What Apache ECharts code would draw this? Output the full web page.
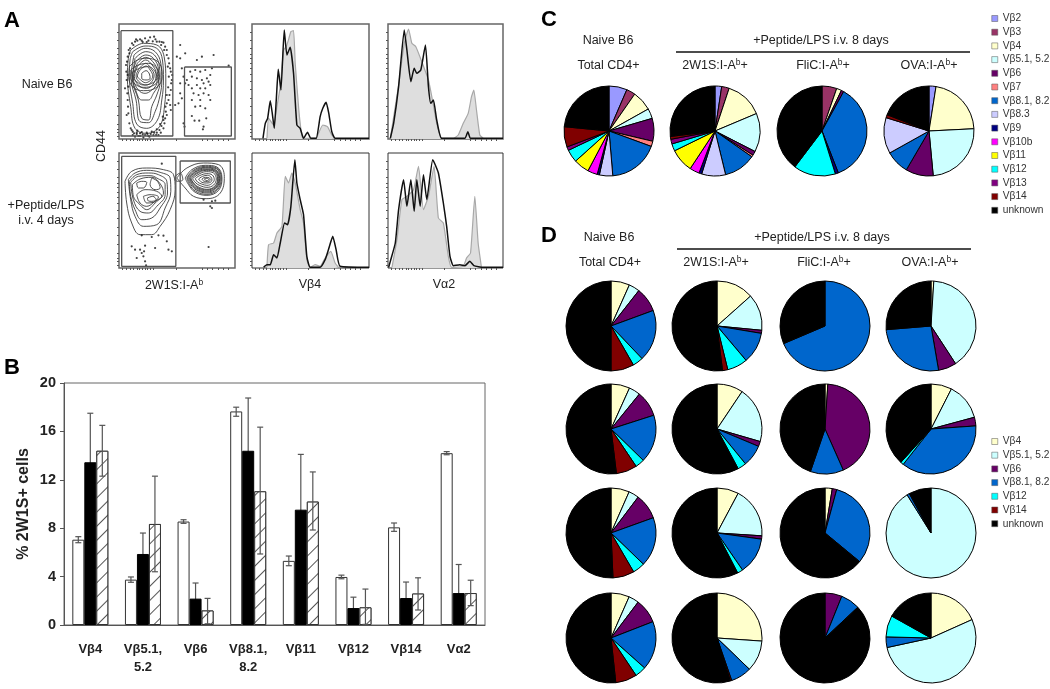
<!DOCTYPE html>
<html>
<head>
<meta charset="utf-8">
<style>
  html, body { margin: 0; padding: 0; background: #fff; }
  #main { width: 1050px; height: 689px; }
</style>
</head>
<body>
<div id="main"></div>
<script src="https://cdn.jsdelivr.net/npm/echarts@6/dist/echarts.min.js"></script>
<script>
// panel B
const barCats = ['Vβ4', 'Vβ5.1,\n5.2', 'Vβ6', 'Vβ8.1,\n8.2', 'Vβ11', 'Vβ12', 'Vβ14', 'Vα2']
const whiteVals = [7.05, 3.75, 8.55, 17.65, 5.3, 3.97, 8.07, 14.2]
const blackVals = [13.45, 5.87, 2.18, 14.4, 9.53, 1.4, 2.23, 2.64]
const hatchVals = [14.4, 8.35, 1.2, 11.05, 10.2, 1.46, 2.6, 2.64]
const whiteHi = [7.3, 3.97, 8.7, 18.0, 5.7, 4.12, 8.43, 14.33]
const whiteLo = [6.8, 3.53, 8.4, 17.25, 4.9, 3.82, 7.74, 14.07]
const blackHi = [17.5, 7.6, 3.47, 18.76, 14.1, 2.3, 3.55, 5.0]
const blackLo = [9.4, 4.1, 0.9, 10.0, 5.0, 0.5, 0.9, 0.3]
const hatchHi = [16.5, 12.3, 2.2, 16.35, 12.65, 2.97, 3.9, 3.7]
const hatchLo = [12.3, 4.4, 0.1, 5.87, 7.85, 0.05, 1.24, 1.6]

// panel C / D pies, percent, clockwise from 12 o'clock
const namesC = ['Vβ2', 'Vβ3', 'Vβ4', 'Vβ5.1, 5.2', 'Vβ6', 'Vβ7', 'Vβ8.1, 8.2', 'Vβ8.3', 'Vβ9', 'Vβ10b', 'Vβ11', 'Vβ12', 'Vβ13', 'Vβ14', 'unknown']
const colorsC = ['#9999ff', '#993366', '#ffffcc', '#ccffff', '#660066', '#ff8080', '#0066cc', '#ccccff', '#000080', '#ff00ff', '#ffff00', '#00ffff', '#800080', '#800000', '#000000']
const cNaive = [6.5, 3.2, 7.2, 3.6, 8.2, 1.9, 18.1, 4.8, 0.8, 3.5, 5.6, 4.6, 1.3, 7.3, 23.5]
const c2W1S = [2.4, 2.7, 13.6, 13.9, 1.5, 0.7, 11.5, 8.6, 1.0, 3.5, 8.5, 2.6, 1.7, 1.0, 27]
const cFliC = [0, 5.3, 1.8, 0, 0.9, 0, 36.1, 0, 1.1, 0, 0, 15.1, 0, 0, 39.7]
const cOVA = [2.5, 0, 21.7, 24.3, 9.9, 0, 8.5, 12.9, 0, 0, 0, 0, 0, 1.1, 19.1]

const namesD = ['Vβ4', 'Vβ5.1, 5.2', 'Vβ6', 'Vβ8.1, 8.2', 'Vβ12', 'Vβ14', 'unknown']
const colorsD = ['#ffffcc', '#ccffff', '#660066', '#0066cc', '#00ffff', '#800000', '#000000']
const dNaive1 = [6.7, 3.9, 8.8, 18.5, 3.8, 8.3, 50]
const d2W1S1 = [13.4, 13.1, 1.1, 11.2, 7.3, 1.9, 51.9]
const dFliC1 = [0, 0, 0, 68.6, 0, 0, 31.4]
const dOVA1 = [1.0, 39.8, 6.5, 26.4, 0, 0, 26.3]
const dNaive2 = [6.75, 4.1, 9.2, 17.2, 3.3, 7.5, 51.9]
const d2W1S2 = [9.4, 20.1, 1.8, 7.8, 3.1, 0, 57.8]
const dFliC2 = [1.0, 0, 42.3, 11.9, 0, 0, 44.7]
const dOVA2 = [7.5, 13.3, 3.1, 36.7, 1.1, 0, 38.3]
const dNaive3 = [6.6, 3.7, 9.2, 17.7, 4.4, 7.7, 50.7]
const d2W1S3 = [7.8, 18.2, 1.2, 13.2, 2.0, 0, 57.6]
const dFliC3 = [2.6, 0, 1.6, 31.8, 0, 0, 64]
const dOVA3 = [0, 91.1, 0, 0.9, 0, 0, 8.0]
const dNaive4 = [6.6, 3.7, 8.8, 17.5, 4.0, 7.7, 51.7]
const d2W1S4 = [26.1, 11.1, 0, 7.5, 0, 0.5, 54.8]
const dFliC4 = [0, 0, 6.1, 6.9, 0, 0, 87]
const dOVA4 = [18.3, 53.3, 0, 3.8, 7.7, 0, 16.9]

// panel A histograms, [channel, height scale runs top to bottom]
const histB1 = [[38,385],[45,340],[52,325],[60,272],[66,310],[72,355],[78,270],[84,178],[92,240],[102,60],[110,135],[120,112],[130,190],[140,345],[150,355],[160,385],[172,367],[182,385],[198,385],[210,320],[218,295],[228,277],[236,310],[245,365],[255,385],[357,385]]
const histG1 = [[50,385],[55,325],[70,345],[80,290],[90,230],[100,120],[108,110],[116,85],[122,65],[130,62],[135,160],[145,290],[150,340],[158,385],[198,385],[205,370],[218,345],[232,350],[245,375],[255,385]]
const histB2 = [[420,385],[430,340],[445,230],[462,60],[470,120],[482,215],[492,175],[500,190],[512,180],[526,105],[535,230],[542,280],[550,270],[560,330],[575,385],[645,385],[654,365],[662,385],[760,385]]
const histG2 = [[420,385],[445,225],[462,100],[475,57],[485,100],[497,110],[515,155],[535,210],[548,275],[560,340],[575,385],[610,385],[625,375],[640,340],[655,310],[665,260],[672,240],[680,300],[690,375],[700,385]]
const histB3 = [[40,773],[50,765],[60,765],[70,735],[80,745],[90,700],[103,640],[112,645],[122,590],[134,450],[140,520],[150,570],[160,615],[170,740],[180,773],[210,773],[225,750],[235,720],[248,680],[258,720],[270,770],[357,773]]
const histG3 = [[50,773],[55,705],[70,700],[80,670],[95,650],[105,500],[115,520],[125,490],[135,520],[150,600],[160,640],[170,750],[180,773],[195,765],[210,770],[225,745],[242,725],[255,760],[265,773]]
const histB4 = [[415,773],[420,755],[435,700],[445,600],[460,510],[470,590],[482,510],[492,605],[500,510],[510,590],[520,495],[530,570],[548,450],[565,490],[580,580],[590,650],[600,740],[610,768],[630,765],[645,768],[660,755],[672,768],[700,773],[760,773]]
const histG4 = [[425,773],[440,690],[455,570],[470,560],[490,540],[505,470],[520,600],[535,560],[552,470],[565,625],[580,640],[595,740],[605,773],[640,770],[650,745],[662,730],[675,560],[685,700],[695,773]]

// panel A contour plots
const naiveGates = [[[363,92],[518,92],[518,408],[363,408]], [[553,201],[693,201],[693,408],[553,408]]]
const naiveContours = [
  [[392,150],[430,130],[470,135],[492,170],[497,240],[493,320],[478,380],[440,400],[405,385],[392,320],[382,230],[385,175]],
  [[398,155],[435,138],[470,145],[487,180],[490,240],[485,300],[472,360],[440,385],[410,372],[398,310],[388,230],[390,180]],
  [[402,165],[435,145],[465,155],[482,190],[485,240],[480,285],[465,335],[445,368],[420,365],[408,300],[393,235]],
  [[405,175],[437,155],[463,165],[478,200],[480,245],[470,285],[455,320],[445,360],[425,355],[415,300],[398,240]],
  [[408,185],[437,165],[460,175],[475,210],[475,250],[460,280],[445,300],[425,300],[405,265],[397,230]],
  [[412,190],[437,172],[458,185],[472,215],[470,250],[455,270],[435,280],[415,270],[400,235]],
  [[412,200],[437,180],[456,195],[468,220],[462,248],[440,265],[418,258],[403,230]],
  [[418,205],[437,190],[452,205],[462,225],[455,245],[438,255],[420,248],[408,228]],
  [[420,210],[438,198],[450,210],[458,228],[450,242],[436,248],[422,240],[412,228]],
  [[425,220],[438,212],[448,222],[450,235],[438,240],[425,235]],
  [[388,200],[412,180],[440,175],[478,190],[486,230],[470,262],[430,272],[400,262],[386,232]],
  [[392,210],[415,195],[445,190],[470,205],[478,232],[462,255],[430,262],[405,252],[392,232]],
  [[396,218],[418,205],[445,200],[465,215],[470,235],[455,250],[430,255],[410,245],[398,232]]
]
const naiveDots = [[405,125],[420,118],[435,115],[450,112],[462,110],[470,125],[478,125],[490,128],[495,140],[400,135],[390,145],[412,122],[425,122],[445,122],[458,124],[483,135],[500,150],[505,175],[510,205],[515,240],[512,270],[505,300],[497,335],[490,360],[484,378],[478,390],[470,398],[460,405],[445,408],[430,412],[420,400],[410,398],[405,410],[398,395],[392,385],[398,405],[415,408],[435,405],[452,402],[385,340],[380,345],[383,300],[385,260],[375,265],[383,225],[378,195],[383,170],[388,160],[495,355],[500,310],[508,285],[516,225],[507,190],[512,330],[490,385],[475,405],[540,135],[555,160],[530,170],[540,175],[590,180],[605,170],[640,165],[685,197],[545,205],[550,230],[540,250],[555,250],[560,240],[570,215],[585,210],[600,215],[615,210],[635,205],[630,225],[620,235],[575,230],[590,235],[605,240],[610,250],[625,245],[565,255],[575,265],[590,255],[600,265],[615,265],[630,255],[580,280],[595,285],[610,280],[625,285],[575,300],[600,300],[630,300],[585,320],[600,318],[615,325],[575,348],[583,362],[597,362],[618,355],[610,380],[608,388],[550,370],[553,380],[525,315],[535,310],[545,295],[540,280],[396,130],[408,118],[428,126],[440,126],[466,118],[485,126],[492,150],[500,165],[503,200],[506,230],[504,262],[500,285],[496,320],[488,350],[480,372],[470,388],[455,395],[440,398],[425,396],[412,392],[402,400],[395,390],[388,370],[384,320],[382,280],[380,240],[379,215],[381,185],[386,150],[410,402],[420,408],[428,403],[442,402],[448,410],[462,398],[468,405],[482,398],[493,370],[500,345],[510,315],[513,250],[512,215]]

const peptideGates = [[[365,470],[527,470],[527,800],[365,800]], [[540,484],[690,484],[690,610],[540,610]]]
const peptideContours = [
  [[530,535],[560,505],[610,490],[655,495],[672,530],[660,580],[620,597],[580,590],[555,565]],
  [[555,535],[575,510],[615,497],[650,502],[665,535],[655,572],[620,587],[585,578],[565,555]],
  [[560,535],[578,513],[615,500],[649,505],[663,535],[652,570],[620,584],[587,575],[568,555]],
  [[562,535],[580,515],[615,503],[648,507],[660,535],[650,568],[620,580],[590,572],[572,555]],
  [[565,535],[583,517],[615,505],[646,510],[658,536],[648,565],[620,577],[592,570],[575,554]],
  [[568,535],[585,518],[615,508],[645,512],[656,537],[647,563],[620,574],[593,567],[577,553]],
  [[570,536],[588,520],[617,510],[643,514],[654,537],[645,561],[620,571],[595,565],[580,552]],
  [[572,537],[590,522],[618,512],[642,516],[652,538],[643,560],[620,569],[597,563],[582,552]],
  [[577,537],[593,525],[618,516],[640,520],[648,538],[640,556],[620,563],[600,558],[587,550]],
  [[585,537],[598,528],[620,522],[636,526],[642,540],[634,552],[620,557],[604,553],[592,547]],
  [[595,538],[607,530],[622,527],[632,532],[635,541],[628,549],[618,550],[605,548]],
  [[605,538],[615,533],[626,534],[630,541],[622,546],[610,544]],
  [[612,538],[620,536],[626,540],[620,543]],
  [[375,545],[395,515],[440,505],[490,510],[520,525],[525,570],[510,630],[480,680],[455,705],[420,705],[395,670],[380,610]],
  [[385,540],[405,520],[440,512],[480,518],[510,535],[512,575],[495,625],[470,675],[430,680],[405,650],[392,600]],
  [[388,545],[410,525],[445,520],[475,525],[500,545],[502,580],[480,625],[455,655],[425,660],[405,630],[392,590]],
  [[392,548],[415,530],[450,528],[470,535],[495,555],[495,585],[470,620],[445,640],[420,635],[400,600]],
  [[397,555],[420,538],[455,533],[480,552],[490,580],[465,610],[440,630],[420,615],[400,590]],
  [[410,550],[425,545],[440,548],[430,565],[415,565]],
  [[455,535],[472,545],[480,565],[465,570],[450,555]],
  [[410,585],[435,570],[470,575],[485,590],[465,605],[440,620],[420,610]],
  [[430,590],[450,585],[475,592],[460,608],[440,610]],
  [[442,595],[458,590],[468,600],[455,605],[445,604]],
  [[525,530],[540,520],[548,540],[530,545]]
]
const peptideDots = [[485,492],[395,740],[435,738],[432,755],[405,750],[430,770],[410,775],[435,785],[438,797],[465,745],[490,708],[500,725],[505,750],[515,755],[625,742],[630,620],[635,625],[425,707],[455,712],[475,707],[420,750],[425,760],[635,605],[610,600],[645,603]]

// tick offsets of the log axes
const tickOffsX = [10, 22, 34, 44, 54, 62, 70, 78, 86, 94, 102, 170, 248, 264, 280, 296, 312, 326]
const tickOffsY = [26, 50, 74, 92, 104, 118, 132, 150, 172, 196, 222, 248, 275, 300, 316, 326, 336]

const FONT = '"Liberation Sans", Arial, sans-serif'

const grids = []
const xAxes = []
const yAxes = []
const series = []

function addPlot(left, top, w, h, xMin, xMax, yMin, yMax, strong) {
  const i = grids.length
  grids.push({
    left, top, width: w, height: h, show: true,
    backgroundColor: '#fff', borderColor: strong ? '#666' : '#333', borderWidth: strong ? 1.5 : 1
  })
  xAxes.push({
    gridIndex: i, type: 'value', min: xMin, max: xMax,
    axisLine: { show: false }, splitLine: { show: false }, axisLabel: { show: false },
    axisTick: { length: 2, lineStyle: { color: '#555' }, customValues: tickOffsX.map(v => xMin + v) }
  })
  yAxes.push({
    gridIndex: i, type: 'value', min: yMin, max: yMax, inverse: true,
    axisLine: { show: false }, splitLine: { show: false }, axisLabel: { show: false },
    axisTick: { length: 2, lineStyle: { color: '#555' }, customValues: tickOffsY.map(v => yMin + v) }
  })
  return i
}

function addLine(i, pts, color, width, smooth, z) {
  series.push({
    type: 'line', xAxisIndex: i, yAxisIndex: i, data: pts, symbol: 'none', silent: true,
    smooth: smooth, animation: false, z: z,
    lineStyle: { color: color, width: width }
  })
}

function addFlow(left, top, w, h, xMin, xMax, yMin, yMax, gates, contours, dots) {
  const i = addPlot(left, top, w, h, xMin, xMax, yMin, yMax, true)
  contours.forEach(c => addLine(i, c.concat([c[0]]), '#3c3c3c', 0.9, 0.4, 3))
  gates.forEach(g => addLine(i, g.concat([g[0]]), '#555', 1.3, false, 4))
  series.push({
    type: 'scatter', xAxisIndex: i, yAxisIndex: i, data: dots, symbolSize: 2.2, silent: true,
    animation: false, z: 3, itemStyle: { color: '#111' }
  })
}

function addHist(left, top, w, h, xMin, xMax, yMin, yMax, black, gray, strong) {
  const i = addPlot(left, top, w, h, xMin, xMax, yMin, yMax, strong)
  series.push({
    type: 'line', xAxisIndex: i, yAxisIndex: i, data: gray, symbol: 'none', silent: true, animation: false, z: 2,
    smooth: 0.15,
    lineStyle: { color: '#a8a8a8', width: 1.2 },
    areaStyle: { color: '#dedede', opacity: 1, origin: 'end' }
  })
  addLine(i, black, '#111', 1.5, 0.15, 3)
}

addFlow(119, 24, 116, 115, 357, 704, 72, 417, naiveGates, naiveContours, naiveDots)
addFlow(119, 153, 116, 115, 357, 704, 460, 805, peptideGates, peptideContours, peptideDots)
addHist(252, 24, 117, 115, 5, 357, 42, 387, histB1, histG1, true)
addHist(388, 24, 115, 115, 413, 760, 42, 387, histB2, histG2, true)
addHist(252, 153, 117, 115, 5, 357, 430, 775, histB3, histG3, false)
addHist(388, 153, 115, 115, 413, 760, 430, 775, histB4, histG4, false)

// panel B
const barIdx = grids.length
grids.push({ left: 64, top: 383, width: 421, height: 242, show: true, borderColor: '#666', borderWidth: 1, backgroundColor: '#fff' })
xAxes.push({
  gridIndex: barIdx, type: 'category', data: barCats,
  axisLine: { lineStyle: { color: '#555' } },
  axisTick: { length: 4, lineStyle: { color: '#555' } },
  axisLabel: { color: '#222', fontFamily: FONT, fontWeight: 'bold', fontSize: 13, lineHeight: 18, margin: 15, interval: 0 }
})
yAxes.push({
  gridIndex: barIdx, type: 'value', min: 0, max: 20, interval: 4,
  name: '% 2W1S+ cells', nameLocation: 'middle', nameRotate: 90, nameGap: 32,
  nameTextStyle: { color: '#222', fontFamily: FONT, fontWeight: 'bold', fontSize: 16 },
  axisLine: { show: true, lineStyle: { color: '#555' } },
  axisTick: { show: true, length: 4, lineStyle: { color: '#555' } },
  splitLine: { show: false },
  axisLabel: { color: '#222', fontFamily: FONT, fontWeight: 'bold', fontSize: 14.5, margin: 8 }
})

function addBar(vals, style, z) {
  series.push({
    type: 'bar', xAxisIndex: barIdx, yAxisIndex: barIdx, data: vals, barWidth: 12, barGap: 0,
    animation: false, silent: true, z: z, itemStyle: style
  })
}
addBar(whiteVals, { color: '#fff', borderColor: '#333', borderWidth: 1 }, 3)
addBar(blackVals, { color: '#000', borderColor: '#000', borderWidth: 1 }, 3)
addBar(hatchVals, {
  color: '#fff', borderColor: '#333', borderWidth: 1,
  decal: { symbol: 'rect', color: '#555', backgroundColor: '#fff', dashArrayX: [1, 0], dashArrayY: [1, 9], rotation: -Math.PI / 4 }
}, 3)

function addErrors(hi, lo, offset, z) {
  series.push({
    type: 'custom', xAxisIndex: barIdx, yAxisIndex: barIdx, silent: true, animation: false, z: z,
    data: hi.map((v, k) => [k, v, lo[k]]),
    encode: { x: 0, y: [1, 2] },
    renderItem: (params, api) => {
      const top = api.coord([api.value(0), api.value(1)])
      const bot = api.coord([api.value(0), api.value(2)])
      const x = top[0] + offset
      const style = { stroke: '#555', lineWidth: 1.2 }
      return {
        type: 'group',
        children: [
          { type: 'line', shape: { x1: x, y1: top[1], x2: x, y2: bot[1] }, style },
          { type: 'line', shape: { x1: x - 3, y1: top[1], x2: x + 3, y2: top[1] }, style },
          { type: 'line', shape: { x1: x - 3, y1: bot[1], x2: x + 3, y2: bot[1] }, style }
        ]
      }
    }
  })
}
addErrors(whiteHi, whiteLo, -12, 5)
addErrors(blackHi, blackLo, 0, 1)   // lower half is hidden behind the black bar
addErrors(hatchHi, hatchLo, 12, 5)

// pies
function addPie(vals, names, colors, x, y) {
  series.push({
    type: 'pie', center: [x, y], radius: 45, animation: false, silent: true, z: 3,
    label: { show: false }, labelLine: { show: false },
    itemStyle: { borderColor: '#000', borderWidth: 1 },
    data: vals.map((v, k) => ({ name: names[k], value: v, itemStyle: { color: colors[k] } })).filter(d => d.value > 0)
  })
}
[cNaive, c2W1S, cFliC, cOVA].forEach((vals, k) => addPie(vals, namesC, colorsC, [609, 715, 822, 929][k], 131))
const dCols = [611, 717, 825, 931]
const dRows = [326, 429, 533, 638]
;[
  [dNaive1, d2W1S1, dFliC1, dOVA1],
  [dNaive2, d2W1S2, dFliC2, dOVA2],
  [dNaive3, d2W1S3, dFliC3, dOVA3],
  [dNaive4, d2W1S4, dFliC4, dOVA4]
].forEach((row, r) => row.forEach((vals, c) => addPie(vals, namesD, colorsD, dCols[c], dRows[r])))

// text
function txt(text, x, y, opts) {
  const o = opts || {}
  return {
    type: 'text', x: x, y: y, rotation: o.rotation || 0, silent: true, z: 20,
    style: {
      text: text, textAlign: o.align || 'center', textVerticalAlign: 'middle',
      fontFamily: FONT, fontSize: o.size || 12.5, fontWeight: o.weight || 'normal', fill: o.fill || '#222',
      rich: { sup: { fontFamily: FONT, fontSize: 8.5, fill: '#222', padding: [0, 0, 6, 0] }, n: { fontFamily: FONT, fontSize: o.size || 12.5, fill: '#222' } }
    }
  }
}
const rule = (x1, x2, y) => ({
  type: 'line', silent: true, z: 20, shape: { x1: x1, y1: y, x2: x2, y2: y }, style: { stroke: '#111', lineWidth: 1.5 }
})
const letter = (t, x, y) => txt(t, x, y, { size: 22, weight: 'bold', align: 'left', fill: '#000' })
const ab = (s) => '{n|' + s + ':I-A}{sup|b}{n|+}'

const texts = [
  letter('A', 4, 21), letter('B', 4, 368), letter('C', 541, 20), letter('D', 541, 236),
  txt('Naive B6', 47, 85), txt('+Peptide/LPS', 46, 206), txt('i.v. 4 days', 46, 221),
  txt('CD44', 102, 146, { rotation: Math.PI / 2 }),
  txt('{n|2W1S:I-A}{sup|b}', 174, 286), txt('Vβ4', 310, 285), txt('Vα2', 444, 285),

  txt('Naive B6', 608, 41), txt('+Peptide/LPS i.v. 8 days', 821, 41), rule(676, 970, 52),
  txt('Total CD4+', 608.5, 66), txt(ab('2W1S'), 715, 66), txt(ab('FliC'), 823, 66), txt(ab('OVA'), 929, 66),

  txt('Naive B6', 609, 238), txt('+Peptide/LPS i.v. 8 days', 822, 238), rule(677, 971, 249),
  txt('Total CD4+', 610, 263), txt(ab('2W1S'), 716, 263), txt(ab('FliC'), 824, 263), txt(ab('OVA'), 930, 263)
]

const legendBase = {
  orient: 'vertical', icon: 'rect', itemWidth: 6, itemHeight: 6, itemGap: 0.7, selectedMode: false,
  itemStyle: { borderWidth: 0.5, borderColor: '#555' },
  padding: 0, textStyle: { fontFamily: FONT, fontSize: 10.2, lineHeight: 13, color: '#333' }
}

const chart = echarts.init(document.getElementById('main'), null, { renderer: 'canvas' })
chart.setOption({
  backgroundColor: '#fff',
  animation: false,
  grid: grids,
  xAxis: xAxes,
  yAxis: yAxes,
  series: series,
  legend: [
    Object.assign({}, legendBase, { left: 991.5, top: 12, data: namesC }),
    Object.assign({}, legendBase, { left: 991.5, top: 435, data: namesD })
  ],
  graphic: { elements: texts }
})
</script>
</body>
</html>
